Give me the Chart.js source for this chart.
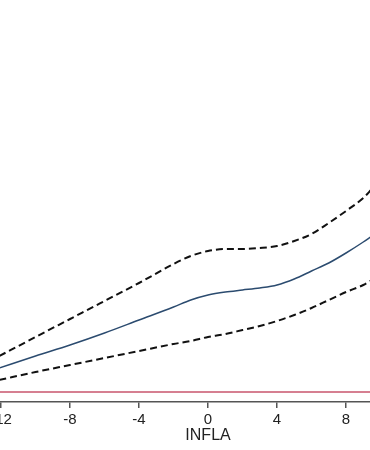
<!DOCTYPE html>
<html>
<head>
<meta charset="utf-8">
<script src="https://cdn.jsdelivr.net/npm/chart.js@4/dist/chart.umd.min.js"></script>
<style>
	html, body { margin: 0; padding: 0; background: #ffffff; }
	canvas { display: block; }
</style>
</head>
<body>
<canvas id="chart" width="370" height="450"></canvas>
<script>
// данные
const inflaX = [-12.1, -10, -8, -6, -4, -2, -1, 0, 1, 2, 3, 4, 5, 6, 7, 8, 9, 9.5];
const fitY = [0.24, 0.36, 0.47, 0.59, 0.72, 0.85, 0.92, 0.97, 1.0, 1.02, 1.04, 1.07, 1.13, 1.21, 1.29, 1.39, 1.5, 1.56];
const upperY = [0.36, 0.55, 0.73, 0.91, 1.09, 1.28, 1.36, 1.41, 1.43, 1.43, 1.44, 1.46, 1.51, 1.58, 1.69, 1.81, 1.94, 2.03];
const lowerY = [0.12, 0.2, 0.27, 0.34, 0.41, 0.48, 0.51, 0.55, 0.58, 0.62, 0.66, 0.71, 0.77, 0.84, 0.92, 1.0, 1.07, 1.12];
// опорная линия на нуле
const refX = [-13, 10];
const refY = [0, 0];
const xTicks = [-12, -8, -4, 0, 4, 8];
const xTitle = 'INFLA';
const xTitleAt = 0; // подпись оси стоит под этим значением (середина исходной оси)

const toPoints = (xs, ys) => xs.map((x, i) => ({ x: x, y: ys[i] }));

const font = '"Liberation Sans", Arial, sans-serif';

// плагин: подпись оси x под заданным значением шкалы
const axisTitle = {
	id: 'axisTitle',
	afterDraw(chart, args, options) {
		const { ctx, scales: { x } } = chart;
		ctx.save();
		ctx.fillStyle = options.color;
		ctx.font = options.font;
		ctx.textAlign = 'center';
		ctx.textBaseline = 'middle';
		ctx.fillText(options.text, x.getPixelForValue(options.at), x.bottom - options.offset);
		ctx.restore();
	},
};

new Chart(document.getElementById('chart'), {
	type: 'line',
	data: {
		datasets: [
			{
				data: toPoints(refX, refY),
				borderColor: '#c9546c',
				borderWidth: 1.5,
				pointRadius: 0,
			},
			{
				data: toPoints(inflaX, upperY),
				borderColor: '#111111',
				borderWidth: 2,
				borderDash: [7, 4],
				pointRadius: 0,
				cubicInterpolationMode: 'monotone',
			},
			{
				data: toPoints(inflaX, lowerY),
				borderColor: '#111111',
				borderWidth: 2,
				borderDash: [7, 4],
				pointRadius: 0,
				cubicInterpolationMode: 'monotone',
			},
			{
				data: toPoints(inflaX, fitY),
				borderColor: '#2b4b6f',
				borderWidth: 1.5,
				pointRadius: 0,
				cubicInterpolationMode: 'monotone',
			},
		],
	},
	options: {
		responsive: false,
		animation: false,
		layout: { padding: 0 },
		plugins: {
			legend: { display: false },
			tooltip: { enabled: false },
			axisTitle: {
				text: xTitle,
				at: xTitleAt,
				color: '#222222',
				font: '16px ' + font,
				offset: 14,
			},
		},
		scales: {
			x: {
				type: 'linear',
				position: 'bottom',
				min: -12.06,
				max: 9.39,
				afterBuildTicks: (scale) => {
					scale.ticks = xTicks.map((v) => ({ value: v }));
				},
				afterFit: (scale) => {
					// ось занимает ровно низ картинки, подписи могут обрезаться
					scale.height = 48;
					scale.paddingLeft = 0;
					scale.paddingRight = 0;
				},
				border: { display: true, color: '#555555', width: 1.5 },
				grid: {
					drawOnChartArea: false,
					drawTicks: true,
					tickLength: 6,
					color: '#555555',
					lineWidth: 1.5,
				},
				ticks: {
					autoSkip: false,
					maxRotation: 0,
					padding: 3,
					color: '#222222',
					font: { family: font, size: 15 },
				},
			},
			y: {
				display: false,
				min: -0.1,
				max: 3.92,
			},
		},
	},
	plugins: [axisTitle],
});
</script>
</body>
</html>
